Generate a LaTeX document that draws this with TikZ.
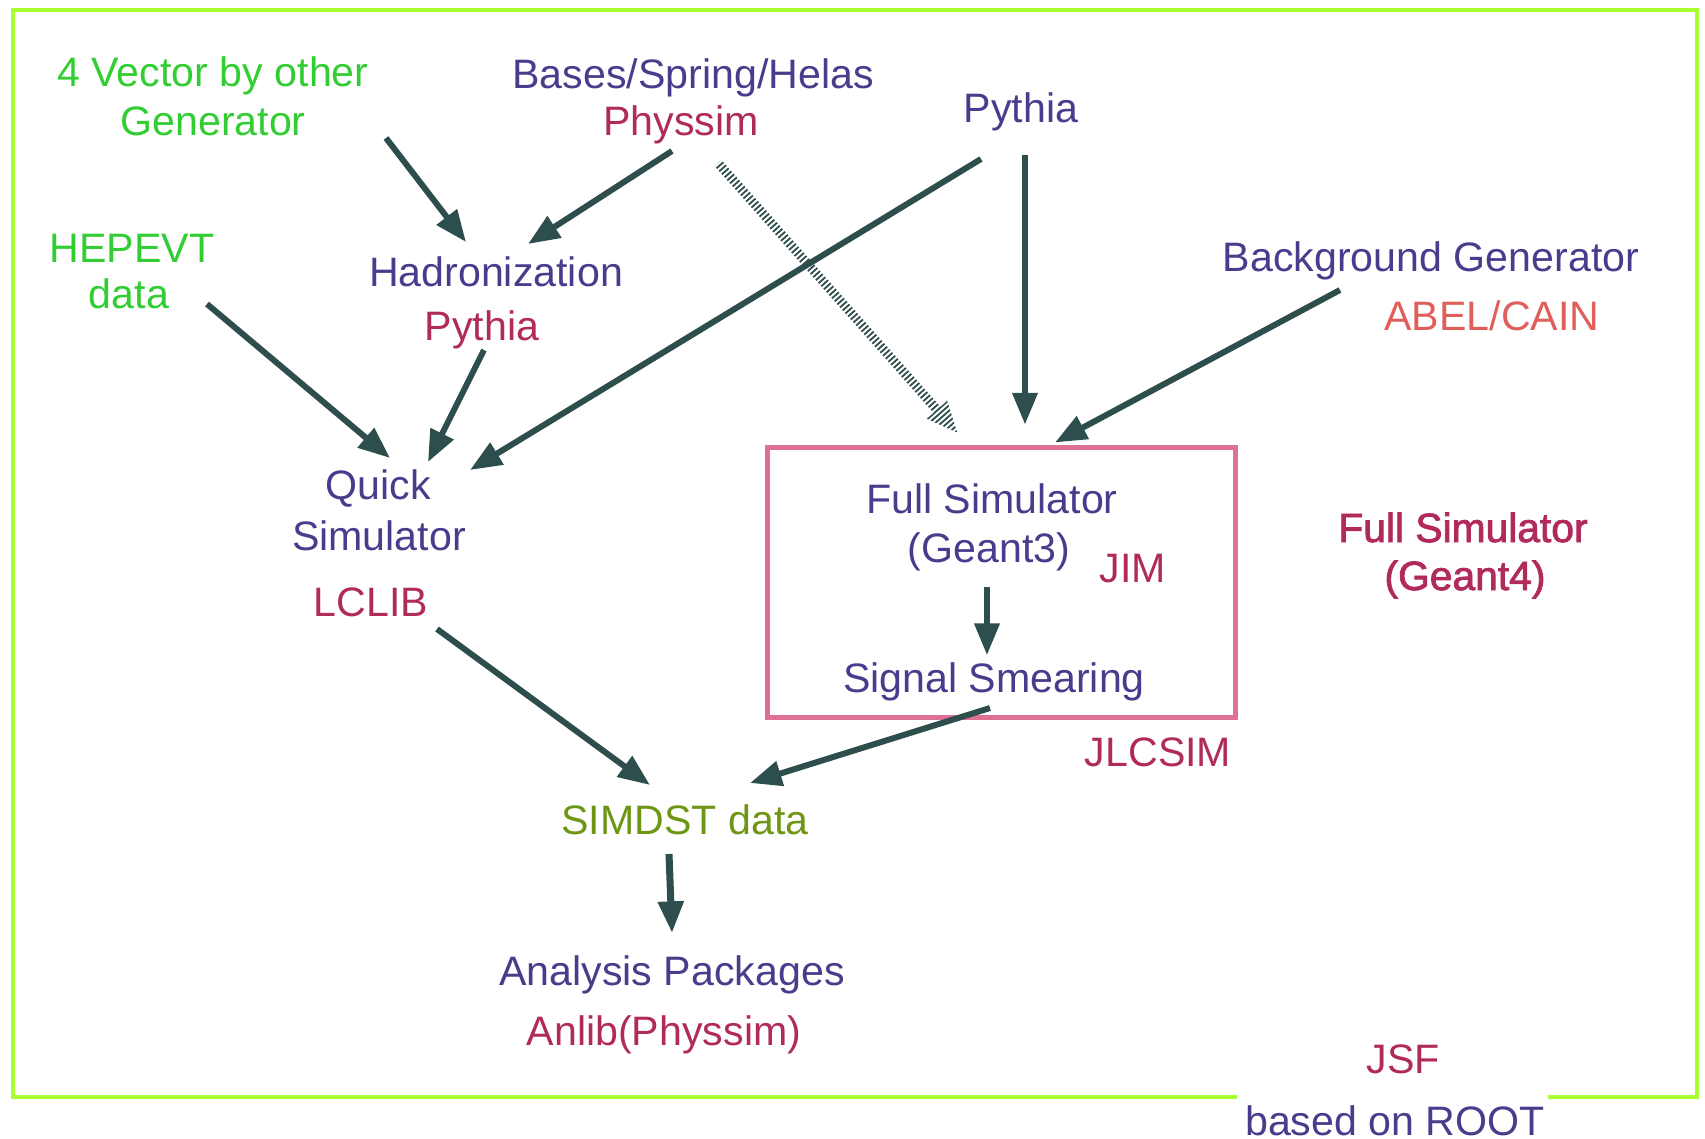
\documentclass[tikz,border=0pt]{standalone}
\usepackage{fontspec}
\setmainfont{Liberation Sans}
\newfontfamily\heavyfont[FakeBold=2]{Liberation Sans}
\usepackage{tikz}
\usetikzlibrary{arrows.meta,calc}

\definecolor{framegreen}{RGB}{170,255,50}
\definecolor{gengreen}{RGB}{50,205,50}
\definecolor{progblue}{RGB}{72,60,140}
\definecolor{pkgred}{RGB}{176,42,92}
\definecolor{abelred}{RGB}{225,95,90}
\definecolor{dstolive}{RGB}{110,150,20}
\definecolor{boxpink}{RGB}{222,112,148}
\definecolor{flowgray}{RGB}{45,78,76}

\tikzset{
  lbl/.style={anchor=base, inner sep=1pt, font=\fontsize{11.7}{14}\selectfont},
  gen/.style={lbl, text=gengreen},
  prog/.style={lbl, text=progblue},
  pkg/.style={lbl, text=pkgred},
  flow/.style={draw=flowgray, line width=1.7pt, -{Triangle[length=9pt,width=7pt]}},
}

\begin{document}
\begin{tikzpicture}[x=0.01cm,y=-0.01cm]
  \useasboundingbox (0,0) rectangle (1705,1139);
  % outer frame, open at the bottom for the ROOT label
  \draw[framegreen, line width=1.4pt] (1237,1097) -- (13,1097) -- (13,10) -- (1697,10) -- (1697,1097) -- (1548,1097);
  \node[draw=boxpink, line width=1.4pt, minimum width=4.67cm, minimum height=2.69cm, inner sep=0pt] (fullbox) at (1001.5,582.5) {};

  % generators
  \node[gen] (fourvec) at (213,86) {4 Vector by other};
  \node[gen] (fourvecb) at (213,135) {Generator};
  \node[gen] (hepevt) at (132,262) {HEPEVT};
  \node[gen] (hepevtb) at (129,308) {data};
  \node[prog] (bases) at (693,88) {Bases/Spring/Helas};
  \node[pkg] (physsim) at (681,135) {Physsim};
  \node[prog] (pythiaa) at (1021,122) {Pythia};
  \node[prog] (hadron) at (496,286) {Hadronization};
  \node[pkg] (pythiab) at (482,340) {Pythia};
  \node[prog] (bkg) at (1431,271) {Background Generator};
  \node[lbl, text=abelred] (abel) at (1492,330) {ABEL/CAIN};

  % simulators
  \node[prog] (quick) at (378,499) {Quick};
  \node[prog] (quickb) at (379,550) {Simulator};
  \node[pkg] (lclib) at (371,616) {LCLIB};
  \node[prog] (fullsim) at (992,513) {Full Simulator};
  \node[prog] (fullsimb) at (989,562) {(Geant3)};
  \node[pkg] (jim) at (1133,582) {JIM};
  \node[prog] (smear) at (994,692) {Signal Smearing};
  \node[pkg] (jlcsim) at (1158,766) {JLCSIM};
  \node[lbl, text=pkgred, font=\fontsize{11.6}{14}\heavyfont] (geantiv) at (1463,542) {Full Simulator};
  \node[lbl, text=pkgred, font=\fontsize{11.6}{14}\heavyfont] (geantivb) at (1465,590) {(Geant4)};

  % output and analysis
  \node[lbl, text=dstolive] (simdst) at (685,834) {SIMDST data};
  \node[prog] (analysis) at (672,985) {Analysis Packages};
  \node[pkg] (anlib) at (664,1045) {Anlib(Physsim)};
  \node[pkg] (jsf) at (1403,1073) {JSF};
  \node[prog] (root) at (1395,1135) {based on ROOT};

  % hatched link, drawn first so the solid Pythia arrow crosses over it
  \draw[flow, line width=2.6pt] ($(physsim.base)+(37,28)$) -- ($(fullbox.north)+(-43.5,-12)$);
  \draw[white, line width=8pt, dash pattern=on 0.55pt off 0.6pt] ($(physsim.base)+(37,28)$) -- ($(fullbox.north)+(-43.5,-12)$);

  \draw[flow] ($(fourvecb.base)+(173,3)$) -- ($(hadron.base)+(-30,-44)$);
  \draw[flow] ($(physsim.base)+(-9,16)$) -- ($(hadron.base)+(32,-42)$);
  \draw[flow] ($(hepevtb.base)+(78,-4)$) -- ($(quick.base)+(12,-41)$);
  \draw[flow] ($(pythiab.base)+(2,10)$) -- ($(quick.base)+(50,-37)$);
  \draw[flow] ($(pythiaa.base)+(-40,37)$) -- ($(quick.base)+(92,-29)$);
  \draw[flow, line width=1.5pt] ($(pythiaa.base)+(4,33)$) -- ($(fullbox.north)+(23.5,-21)$);
  \draw[flow] ($(bkg.base)+(-91,19)$) -- ($(fullbox.north)+(53.5,-3)$);
  \draw[flow, line width=1.5pt] ($(fullsimb.base)+(-2,25)$) -- ($(smear.base)+(-7,-37)$);
  \draw[flow] ($(lclib.base)+(66,13)$) -- ($(simdst.base)+(-35,-49)$);
  \draw[flow] ($(smear.base)+(-4,16)$) -- ($(simdst.base)+(65,-51)$);
  \draw[flow, line width=2pt] ($(simdst.base)+(-16,20)$) -- ($(analysis.base)+(0,-52)$);
\end{tikzpicture}
\end{document}
